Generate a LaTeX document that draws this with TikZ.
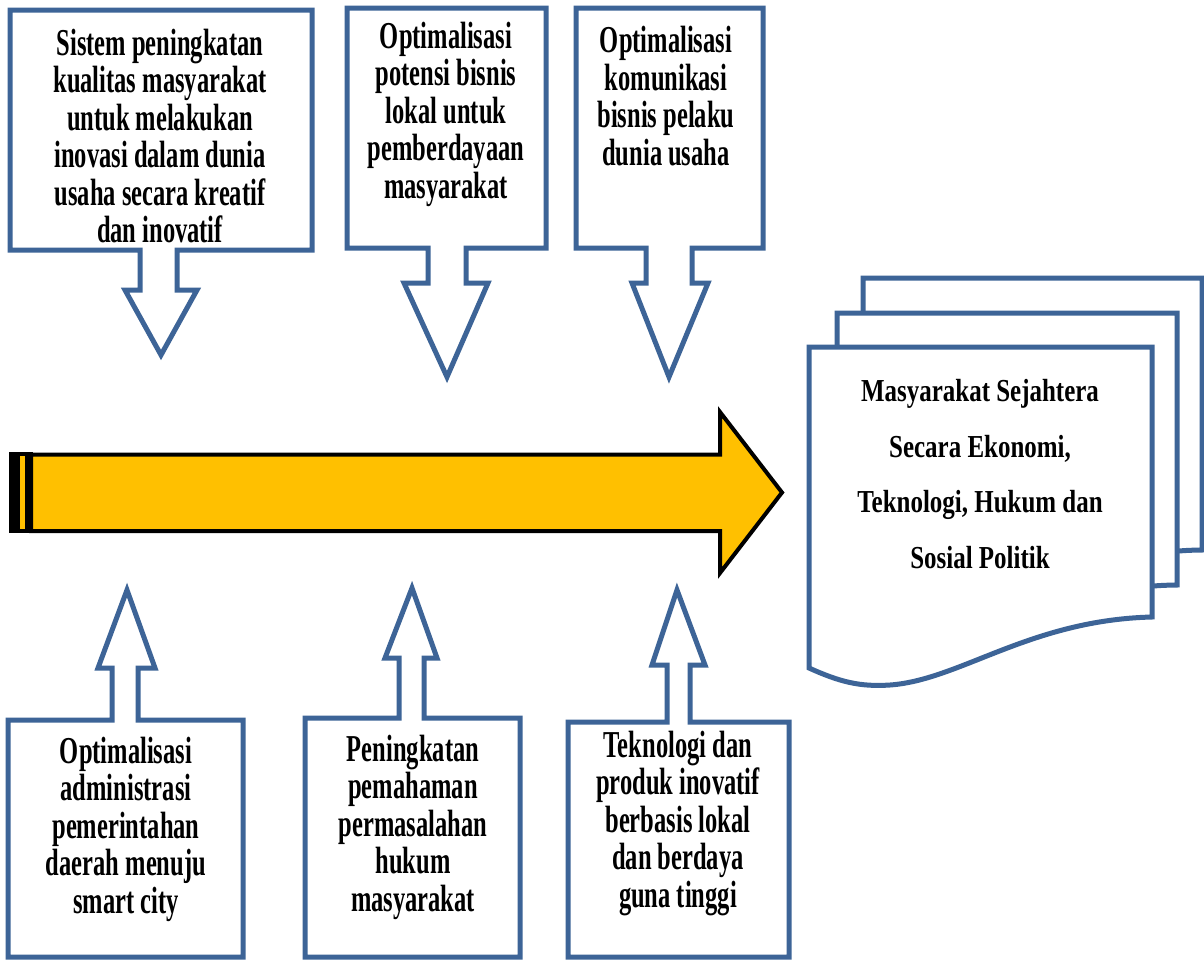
\documentclass[tikz,border=0pt]{standalone}
\usepackage{fontspec}
\setmainfont{Liberation Serif}
\newfontfamily\boxfont[FakeStretch=0.645]{Liberation Serif}
\newfontfamily\docfont[FakeStretch=0.78]{Liberation Serif}
\definecolor{outl}{HTML}{3D6497}
\definecolor{arrowfill}{HTML}{FFC000}
\begin{document}
\begin{tikzpicture}[x=1pt,y=-1pt,
  callout/.style={draw=outl, line width=5pt, fill=white, line join=miter},
  docshape/.style={draw=outl, line width=5pt, fill=white, line join=miter},
  lbl/.style={align=center, inner sep=0pt, font=\boxfont\bfseries\fontsize{38}{37.5}\selectfont},
  doclbl/.style={align=center, inner sep=0pt, font=\docfont\bfseries\fontsize{32}{55.5}\selectfont}]
\useasboundingbox (0,0) rectangle (1204,961);
\fill[white] (0,0) rectangle (1204,961);

% top callouts (down arrows)
\draw[callout] (10,10) -- (312,10) -- (312,250) -- (177,250) -- (177,290) -- (197,290) -- (161,355) -- (125,290) -- (140,290) -- (140,250) -- (10,250) -- cycle;
\draw[callout] (347,8) -- (546,8) -- (546,248) -- (466,248) -- (466,283) -- (488,283) -- (447,377) -- (404,283) -- (428,283) -- (428,248) -- (347,248) -- cycle;
\draw[callout] (576,8) -- (763,8) -- (763,248) -- (692,248) -- (692,283) -- (708,283) -- (669,377) -- (632,283) -- (646,283) -- (646,248) -- (576,248) -- cycle;

% bottom callouts (up arrows)
\draw[callout] (8,957) -- (8,720) -- (112,720) -- (112,668) -- (98,668) -- (127,590) -- (155,668) -- (138,668) -- (138,720) -- (243,720) -- (243,957) -- cycle;
\draw[callout] (305,957) -- (305,718) -- (399,718) -- (399,658) -- (385,658) -- (412,588) -- (437,658) -- (424,658) -- (424,718) -- (520,718) -- (520,957) -- cycle;
\draw[callout] (568,957) -- (568,722) -- (667,722) -- (667,665) -- (652,665) -- (677,590) -- (705,665) -- (690,665) -- (690,722) -- (789,722) -- (789,957) -- cycle;

% big striped arrow
\fill[black] (9,452) rectangle (33,533);
\fill[arrowfill] (20,456) rectangle (24.5,529);
\draw[line width=4pt, fill=arrowfill, line join=miter] (31,454.5) -- (720,454.5) -- (720,412) -- (782,492.5) -- (720,573) -- (720,531) -- (31,531) -- cycle;

% document stack
\draw[docshape] (863,278) -- (1202,278) -- (1202,550) .. controls (1084,551) and (1014,611) .. (944,616) .. controls (914,618) and (894,613) .. (863,599) -- cycle;
\draw[docshape] (837,313) -- (1177,313) -- (1177,585) .. controls (1058,586) and (988,646) .. (918,651) .. controls (888,653) and (868,648) .. (837,634) -- cycle;
\draw[docshape] (809,347) -- (1152,347) -- (1152,617) .. controls (1030,620) and (960,680) .. (890,685) .. controls (860,687) and (840,682) .. (809,668) -- cycle;

% texts
\node[lbl] (t1) at (160,136) {Sistem peningkatan\\kualitas masyarakat\\untuk melakukan\\inovasi dalam dunia\\usaha secara kreatif\\dan inovatif};
\node[lbl] (t2) at (446,114) {Optimalisasi\\potensi bisnis\\lokal untuk\\pemberdayaan\\masyarakat};
\node[lbl] (t3) at (666,96) {Optimalisasi\\komunikasi\\bisnis pelaku\\dunia usaha};
\node[lbl] (b1) at (126,829) {Optimalisasi\\administrasi\\pemerintahan\\daerah menuju\\smart city};
\node[lbl] (b2) at (413,827) {Peningkatan\\pemahaman\\permasalahan\\hukum\\masyarakat};
\node[lbl] (b3) at (678,823) {Teknologi dan\\produk inovatif\\berbasis lokal\\dan berdaya\\guna tinggi};
\node[doclbl] (d) at (980,474) {Masyarakat Sejahtera\\Secara Ekonomi,\\Teknologi, Hukum dan\\Sosial Politik};
\end{tikzpicture}
\end{document}
